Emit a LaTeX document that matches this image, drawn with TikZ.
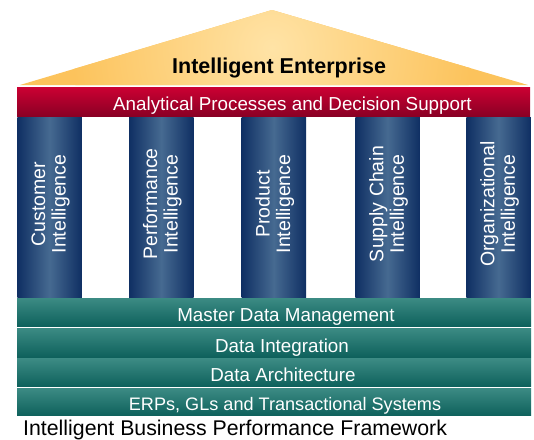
\documentclass[tikz,border=0pt]{standalone}
\usepackage{fontspec}
\setmainfont{Liberation Sans}
\definecolor{roofout}{HTML}{FCC35C}
\definecolor{roofin}{HTML}{FFE3A6}
\definecolor{redtop}{HTML}{CC0033}
\definecolor{redbot}{HTML}{8A0024}
\definecolor{navyedge}{HTML}{0F2F63}
\definecolor{navymid}{HTML}{466A91}
\definecolor{tealtop}{HTML}{3C8B84}
\definecolor{tealbot}{HTML}{0E615C}
\tikzset{
  band/.style={rectangle, inner sep=0pt, draw=none, top color=redtop, bottom color=redbot,
    minimum width=513pt, minimum height=29pt},
  pillar/.style={rectangle, inner sep=0pt, draw=none, left color=navyedge, right color=navyedge,
    middle color=navymid, minimum width=64.5pt, minimum height=180pt},
  layer/.style={rectangle, inner sep=0pt, draw=none, top color=tealtop, bottom color=tealbot,
    minimum width=514pt},
  wtext/.style={text=white, inner sep=0pt, font=\fontsize{18.8}{20}\selectfont},
  ptext/.style={text=white, inner sep=0pt, rotate=90, align=center,
    font=\fontsize{19.5}{20.5}\selectfont},
}
\begin{document}
\begin{tikzpicture}[x=1pt,y=-1pt]
\useasboundingbox[fill=white] (0,0) rectangle (534,439);
% roof
\coordinate (apex) at (272,10);
\coordinate (rl) at (20,85);
\coordinate (rr) at (528,85);
\begin{scope}
  \clip (apex) -- (rl) -- (rr) -- cycle;
  \fill[roofout] (apex) -- (rl) -- (rr) -- cycle;
  \shade[inner color=roofin, outer color=roofout] (272,48) circle (200);
\end{scope}
\node[anchor=base west, inner sep=0pt, font=\fontsize{21.5}{24}\selectfont\bfseries] (title) at (172,73.3) {Intelligent Enterprise};
% red band
\node[band] (apds) at (273.5,101.5) {};
\node[wtext, anchor=base west] (apdst) at (113,110.7) {Analytical Processes and Decision Support};
% pillars
\node[pillar] (p1) at (49.5,207) {};
\node[pillar] (p2) at (161.25,207) {};
\node[pillar] (p3) at (273.75,207) {};
\node[pillar] (p4) at (387.5,207) {};
\node[pillar] (p5) at (498.5,207) {};
\node[ptext] (p1t) at (50.5,204) {Customer\\Intelligence};
\node[ptext] (p2t) at (162.25,204) {Performance\\Intelligence};
\node[ptext] (p3t) at (274.75,204) {Product\\Intelligence};
\node[ptext] (p4t) at (388.5,204) {Supply Chain\\Intelligence};
\node[ptext] (p5t) at (499.5,204) {Organizational\\Intelligence};
% layers
\node[layer, minimum height=28.5pt] (l1) at (274,312.25) {};
\node[layer, minimum height=29pt] (l2) at (274,342.5) {};
\node[layer, minimum height=28pt] (l3) at (274,372.5) {};
\node[layer, minimum height=27.5pt] (l4) at (274,401.75) {};
\node[wtext, anchor=base] (l1t) at (286,321) {Master Data Management};
\node[wtext, anchor=base] (l2t) at (282,352) {Data Integration};
\node[wtext, anchor=base] (l3t) at (283,381.5) {Data Architecture};
\node[wtext, anchor=base, font=\fontsize{18.1}{20}\selectfont] (l4t) at (285,410.5) {ERPs, GLs and Transactional Systems};
% caption
\node[anchor=base west, inner sep=0pt, font=\fontsize{21.3}{24}\selectfont] (cap) at (23,435) {Intelligent Business Performance Framework};
\end{tikzpicture}
\end{document}
